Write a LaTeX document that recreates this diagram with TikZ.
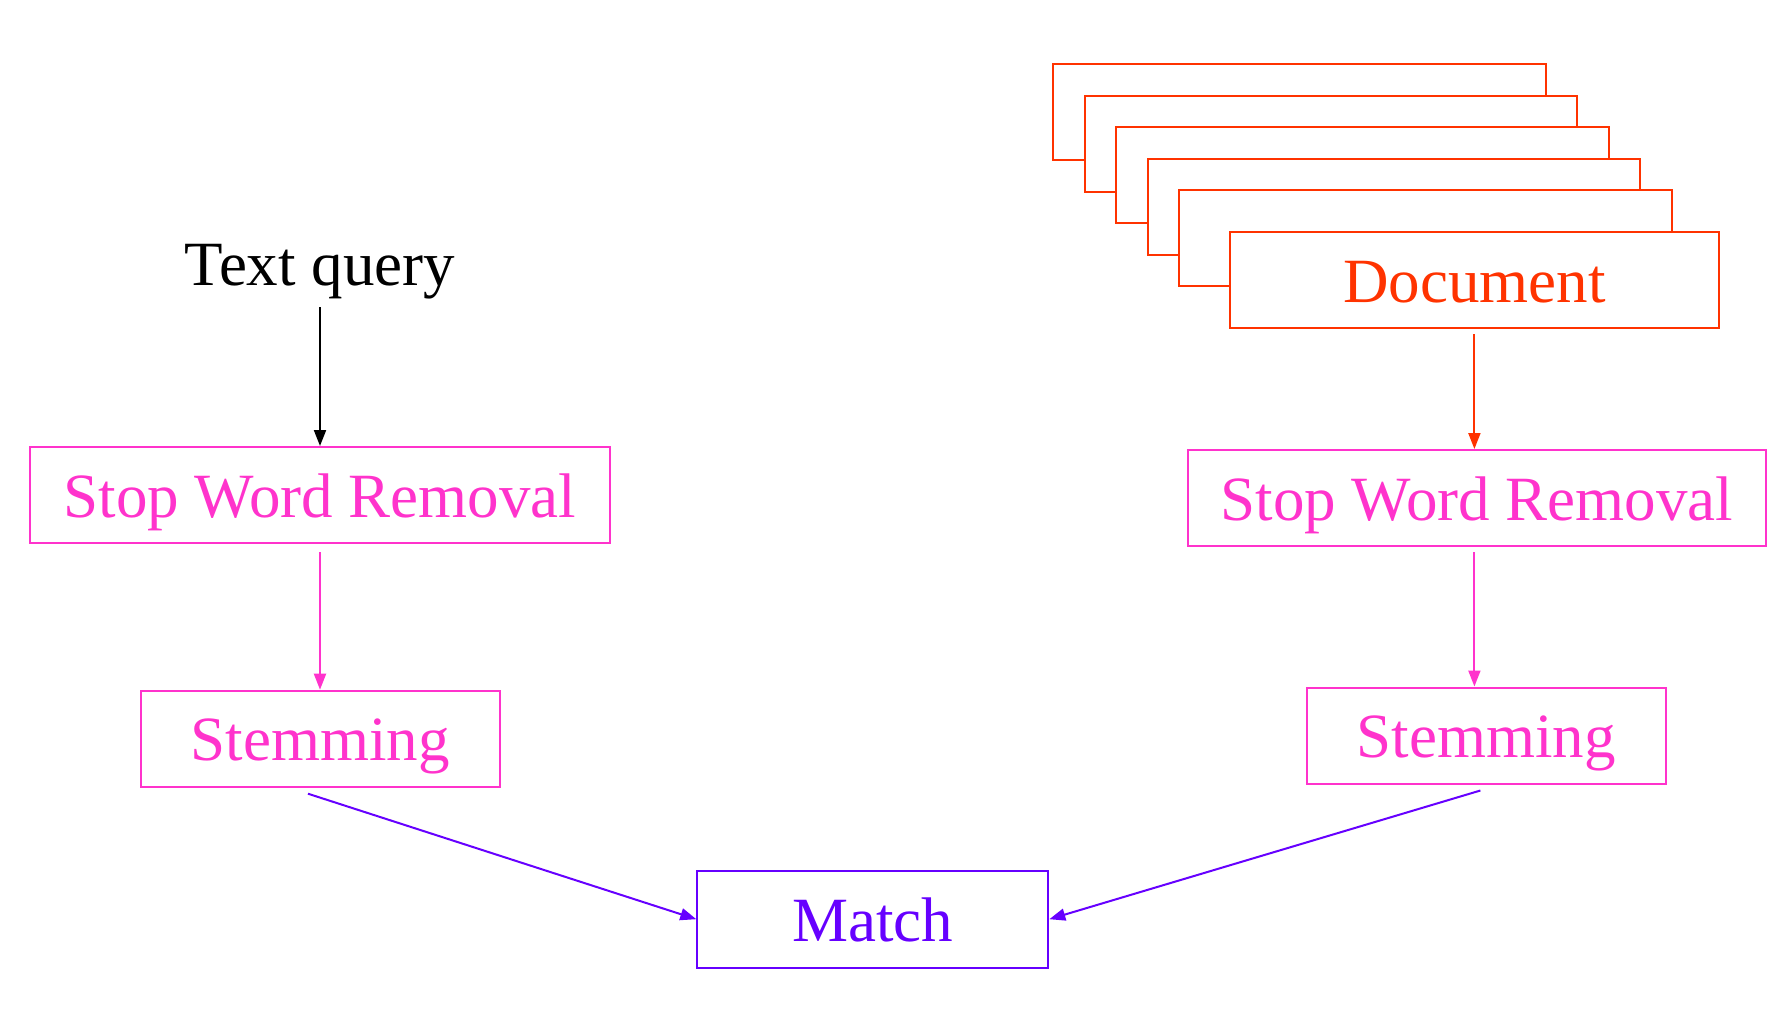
\documentclass[tikz,border=0pt]{standalone}
\usepackage{fontspec}
\setmainfont{Liberation Serif}
\usetikzlibrary{arrows.meta}
\definecolor{docred}{HTML}{FF3300}
\definecolor{pinkc}{HTML}{FF33CC}
\definecolor{purplec}{HTML}{6600FF}
\tikzset{
  lbl/.style={inner sep=0pt, text height=44pt, text depth=0pt, font=\fontsize{63}{70}\selectfont},
  box/.style={lbl, draw, line width=2pt, fill=white, minimum height=96pt},
  conn/.style={line width=2pt, -{Triangle[length=16pt,width=12pt]}},
  stackrect/.style={draw=docred, line width=2pt, fill=white}
}
\begin{document}
\begin{tikzpicture}[x=1pt,y=-1pt]
\useasboundingbox (0,0) rectangle (1788,1018);
% stacked document sheets
\foreach \i in {0,...,4}{
  \draw[stackrect] (1053.4+31.5*\i, 64+31.5*\i) rectangle ++(492.4, 96.3);
}
\node[box, draw=docred, text=docred, minimum width=489pt] (doc) at (1474.4,280) {Document};
\node[lbl] (tq) at (320,263) {Text query};
\node[box, draw=pinkc, text=pinkc, minimum width=580pt] (lswr) at (320,495) {Stop Word Removal};
\node[box, draw=pinkc, text=pinkc, minimum width=359pt] (lstem) at (320,738.7) {Stemming};
\node[box, draw=pinkc, text=pinkc, minimum width=578pt] (rswr) at (1477,498) {Stop Word Removal};
\node[box, draw=pinkc, text=pinkc, minimum width=359pt] (rstem) at (1486.4,735.5) {Stemming};
\node[box, draw=purplec, text=purplec, minimum width=351pt, minimum height=97pt] (match) at (872.8,919.2) {Match};
% connectors
\draw[conn, black, shorten <=22pt] (tq.south) -- (lswr.north);
\draw[conn, docred, shorten <=5pt] (doc.south) -- (doc.south |- rswr.north);
\draw[conn, pinkc, shorten <=8pt] (lswr.south) -- (lstem.north);
\draw[conn, pinkc, shorten <=5pt] (doc.south |- rswr.south) -- (doc.south |- rstem.north);
\draw[conn, purplec] ([xshift=-12pt,yshift=-6pt]lstem.south) -- (match.west);
\draw[conn, purplec] ([xshift=-6pt,yshift=-6pt]rstem.south) -- (match.east);
\end{tikzpicture}
\end{document}
